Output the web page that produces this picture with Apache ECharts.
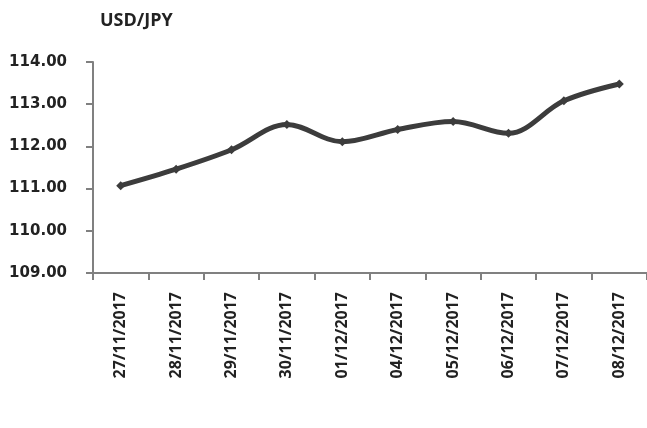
<!DOCTYPE html>
<html><head><meta charset="utf-8">
<script src="https://cdn.jsdelivr.net/npm/echarts@6/dist/echarts.min.js"></script>
<style>html,body{margin:0;padding:0;background:#fff}#c{width:647px;height:428px}</style>
</head><body><div id="c"></div>
<script>
var categories = ['27/11/2017','28/11/2017','29/11/2017','30/11/2017','01/12/2017','04/12/2017','05/12/2017','06/12/2017','07/12/2017','08/12/2017'];
var usdJpy = [111.07, 111.46, 111.92, 112.52, 112.11, 112.40, 112.59, 112.31, 113.08, 113.48];
var yTicks = [109, 110, 111, 112, 113, 114];
var chart = echarts.init(document.getElementById('c'), null, {renderer:'canvas'});
var fontA = '"Open Sans", "DejaVu Sans", sans-serif';
var fontB = '"DejaVu Sans", sans-serif';
chart.setOption({
  animation: false,
  title: {text: 'USD/JPY', left: 95, top: 7, textStyle: {fontFamily: fontA, fontWeight: 'bold', fontSize: 18, color: '#222'}},
  grid: {left: 93, right: -2, top: 62, bottom: 155, containLabel: false},
  xAxis: {
    type: 'category', data: categories, boundaryGap: true,
    axisLine: {lineStyle: {color: '#808080', width: 2}},
    axisTick: {show: true, length: 7, lineStyle: {color: '#808080', width: 2}, alignWithLabel: false},
    axisLabel: {rotate: 90, interval: 0, margin: 19, fontFamily: fontA, fontWeight: 'bold', fontSize: 16, color: '#222'}
  },
  yAxis: {
    type: 'value', min: yTicks[0], max: yTicks[yTicks.length-1], interval: 1,
    axisLine: {show: true, lineStyle: {color: '#808080', width: 2}},
    axisTick: {show: true, length: 7, lineStyle: {color: '#808080', width: 2}},
    splitLine: {show: false},
    axisLabel: {margin: 26, fontFamily: fontB, fontWeight: 'bold', fontSize: 15, color: '#222', formatter: function(v){return v.toFixed(2);}}
  },
  series: [{
    type: 'line', data: usdJpy, smooth: 0.35,
    symbol: 'diamond', symbolSize: 9,
    lineStyle: {color: '#3c3c3c', width: 5},
    itemStyle: {color: '#3c3c3c'}
  }]
});
</script></body></html>
